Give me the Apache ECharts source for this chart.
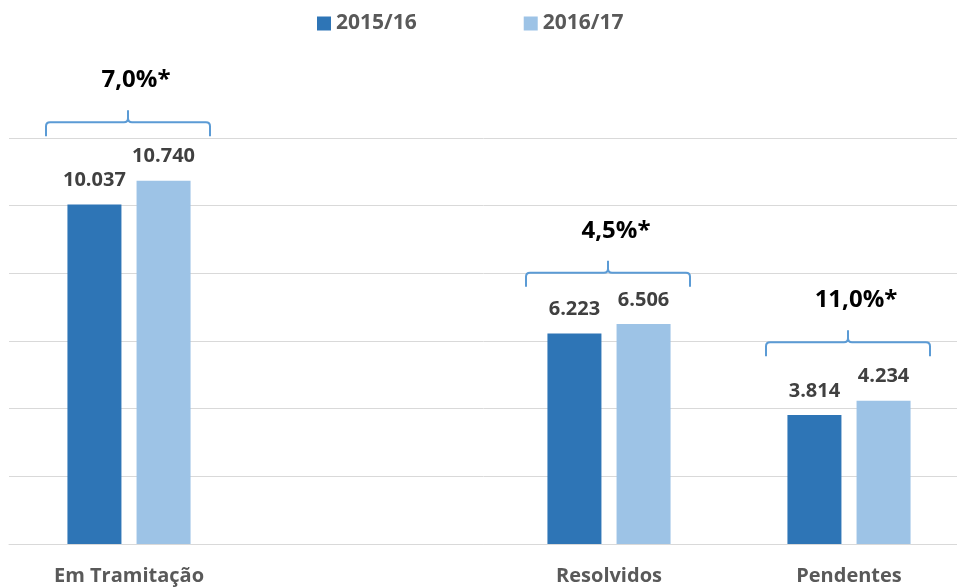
<!DOCTYPE html>
<html>
<head>
<meta charset="utf-8">
<script src="https://cdn.jsdelivr.net/npm/echarts@6/dist/echarts.min.js"></script>
<style>
  html, body { margin: 0; padding: 0; background: #fff; }
  #chart { width: 957px; height: 588px; }
</style>
</head>
<body>
<div id="chart"></div>
<script>
// dados
var categories = ['Em Tramitação', '', 'Resolvidos', 'Pendentes'];
var seriesNames = ['2015/16', '2016/17'];
var values1516 = [10037, null, 6223, 3814];
var values1617 = [10740, null, 6506, 4234];
// chaveta: nível (em unidades do eixo) e texto da variação
var bracketLevels = [12050, null, 7600, 5550];
var bracketLabels = ['7,0%*', '', '4,5%*', '11,0%*'];

function fmt(v) {
	return String(v).replace(/\B(?=(\d{3})+(?!\d))/g, '.');
}

var bracketData = [];
for (var i = 0; i < categories.length; i++) {
	if (bracketLevels[i] != null) {
		bracketData.push([i, bracketLevels[i], bracketLabels[i]]);
	}
}

var myChart = echarts.init(document.getElementById('chart'));

var labelStyle = {
	show: true,
	position: 'top',
	distance: 14,
	color: '#404040',
	fontFamily: 'Open Sans',
	fontWeight: 'bold',
	fontSize: 20,
	formatter: function(p) {
		return fmt(p.value);
	}
};

var option = {
	animation: false,
	textStyle: { fontFamily: 'Open Sans' },
	legend: {
		top: 8,
		left: 312,
		icon: 'rect',
		itemWidth: 14,
		itemHeight: 14,
		itemGap: 107,
		data: seriesNames,
		textStyle: {
			color: '#595959',
			fontSize: 21,
			fontWeight: 'bold',
			fontFamily: 'Open Sans'
		}
	},
	grid: {
		left: 9,
		width: 960,
		top: 138,
		bottom: 44,
		outerBoundsMode: 'none'
	},
	xAxis: {
		type: 'category',
		data: categories,
		axisTick: { show: false },
		axisLine: { lineStyle: { color: '#d9d9d9', width: 1 } },
		axisLabel: {
			margin: 22,
			color: '#595959',
			fontSize: 20,
			fontWeight: 'bold',
			fontFamily: 'Open Sans'
		}
	},
	yAxis: {
		type: 'value',
		min: 0,
		max: 12000,
		interval: 2000,
		axisLabel: { show: false },
		axisLine: { show: false },
		axisTick: { show: false },
		splitLine: { lineStyle: { color: '#d9d9d9', width: 1 } }
	},
	series: [{
			name: seriesNames[0],
			type: 'bar',
			barWidth: 54,
			barGap: '28%',
			itemStyle: { color: '#2e75b6' },
			label: labelStyle,
			data: values1516
		},
		{
			name: seriesNames[1],
			type: 'bar',
			barWidth: 54,
			barGap: '28%',
			itemStyle: { color: '#9dc3e6' },
			label: labelStyle,
			data: values1617
		},
		{
			// chavetas com a variação
			type: 'custom',
			clip: false,
			silent: true,
			encode: { x: 0, y: 1 },
			data: bracketData,
			renderItem: function(params, api) {
				var pt = api.coord([api.value(0), api.value(1)]);
				var xc = pt[0] - 1, yb = pt[1];
				var hw = 82, r = 4;
				var yh = yb - 14, yp = yh - 12;
				var x0 = xc - hw, x1 = xc + hw;
				var d = 'M' + x0 + ' ' + yb +
					' L' + x0 + ' ' + (yh + r) +
					' Q' + x0 + ' ' + yh + ' ' + (x0 + r) + ' ' + yh +
					' L' + (xc - r) + ' ' + yh +
					' Q' + xc + ' ' + yh + ' ' + xc + ' ' + (yh - r) +
					' L' + xc + ' ' + yp +
					' M' + xc + ' ' + (yh - r) +
					' Q' + xc + ' ' + yh + ' ' + (xc + r) + ' ' + yh +
					' L' + (x1 - r) + ' ' + yh +
					' Q' + x1 + ' ' + yh + ' ' + x1 + ' ' + (yh + r) +
					' L' + x1 + ' ' + yb;
				return {
					type: 'group',
					children: [{
						type: 'path',
						shape: { pathData: d },
						style: { stroke: '#5b9bd5', lineWidth: 2, fill: null }
					}, {
						type: 'text',
						style: {
							text: api.value(2),
							x: xc + 8,
							y: yh - 42,
							align: 'center',
							verticalAlign: 'middle',
							fill: '#000',
							fontFamily: 'Open Sans',
							fontWeight: 'bold',
							fontSize: 24
						}
					}]
				};
			}
		}
	]
};
myChart.setOption(option);
</script>
</body>
</html>
